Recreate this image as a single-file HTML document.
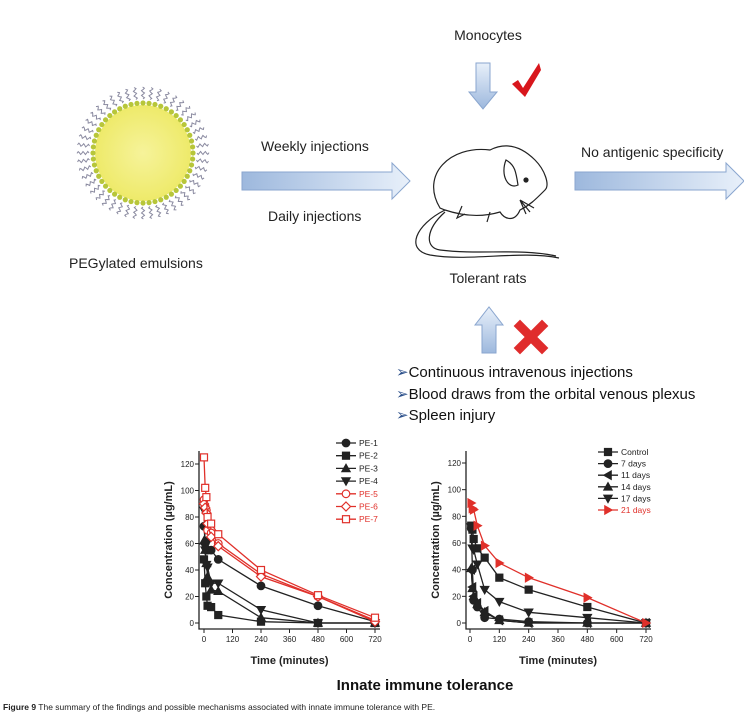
<!DOCTYPE html>
<html><head><meta charset="utf-8"><style>
body{margin:0;background:#fff;}
svg{display:block;font-family:"Liberation Sans",Arial,sans-serif;}
</style></head><body>
<svg id="fig" width="744" height="719" viewBox="0 0 744 719">
<defs>
<linearGradient id="ag" x1="0" x2="1" y1="0" y2="0"><stop offset="0" stop-color="#9db8dd"/><stop offset="1" stop-color="#e8f0fa"/></linearGradient>
<linearGradient id="agv" x1="0" x2="0" y1="0" y2="1"><stop offset="0" stop-color="#e8f0fa"/><stop offset="1" stop-color="#9db8dd"/></linearGradient>
<radialGradient id="yg"><stop offset="0" stop-color="#f6f39a"/><stop offset="1" stop-color="#eeea6a"/></radialGradient>
</defs>
<g id="sphere"></g>
<text x="69" y="268" font-size="14" fill="#222">PEGylated emulsions</text>
<path d="M242,172 H392 V163 L410,181 L392,199 V190 H242 Z" fill="url(#ag)" stroke="#8aa6cf"/>
<text x="261" y="151" font-size="14" fill="#222">Weekly injections</text>
<text x="268" y="221" font-size="14" fill="#222">Daily injections</text>
<path d="M575,172 H726 V163 L744,181 L726,199 V190 H575 Z" fill="url(#ag)" stroke="#8aa6cf"/>
<text x="581" y="157" font-size="14" fill="#222">No antigenic specificity</text>
<text x="488" y="40" font-size="14" fill="#222" text-anchor="middle">Monocytes</text>
<path d="M476,63 H490 V92 H497 L483,109 L469,92 H476 Z" fill="url(#agv)" stroke="#8aa6cf"/>
<path d="M512,84 L518,80 L523,88 L539,63 L541,70 L525,97 Z" fill="#d8161c"/>
<g fill="none" stroke="#222" stroke-width="1.2">
<path d="M440,208 C420,175 450,145 490,150 C510,140 525,150 535,160 C545,170 550,185 545,190 C535,200 530,205 520,210 C515,222 505,220 500,212 C480,218 460,215 445,210 Z"/>
<path d="M445,210 C415,225 405,250 430,255 C470,262 520,250 559,258"/>
<path d="M445,212 C425,230 425,248 440,250 C480,255 520,248 556,256"/>
<path d="M506,160 C500,175 508,190 518,185 C516,172 515,165 506,160 Z"/>
<circle cx="526" cy="180" r="2" fill="#222"/>
<path d="M520,200 l10,12 M520,200 l14,8 M520,200 l6,14"/>
<path d="M462,206 l-5,12 l8,-4 M490,212 l-3,10"/>
</g>
<text x="488" y="283" font-size="14" fill="#222" text-anchor="middle">Tolerant rats</text>
<path d="M482,353 H496 V325 H503 L489,307 L475,325 H482 Z" fill="url(#agv)" stroke="#8aa6cf"/>
<g stroke="#e02c2c" stroke-width="9" stroke-linecap="square"><line x1="520" y1="326" x2="542" y2="348"/><line x1="542" y1="326" x2="520" y2="348"/></g>
<g font-size="15" fill="#111">
<text x="396" y="377"><tspan fill="#2b4f8a">➢</tspan>Continuous intravenous injections</text>
<text x="396" y="399"><tspan fill="#2b4f8a">➢</tspan>Blood draws from the orbital venous plexus</text>
<text x="396" y="420"><tspan fill="#2b4f8a">➢</tspan>Spleen injury</text>
</g>
<g id="chartL"></g>
<g id="chartR"></g>
<text x="425" y="690" font-size="15" font-weight="bold" text-anchor="middle" fill="#111">Innate immune tolerance</text>
<text x="3" y="710" font-size="8.5" fill="#222"><tspan font-weight="bold" fill="#222">Figure 9</tspan> The summary of the findings and possible mechanisms associated with innate immune tolerance with PE.</text>
</svg>
<script>
const NS='http://www.w3.org/2000/svg';
function mk(p,t,a){const e=document.createElementNS(NS,t);for(const k in a)e.setAttribute(k,a[k]);p.appendChild(e);return e;}
(function(){const g=document.getElementById('sphere');const cx=143,cy=153;
for(let i=0;i<48;i++){const a=i/48*2*Math.PI;let d='';for(let s=0;s<=10;s++){const r=54+s*1.2;const w=Math.sin(s*1.6)*1.5;const x=cx+r*Math.cos(a)-w*Math.sin(a),y=cy+r*Math.sin(a)+w*Math.cos(a);d+=(s?'L':'M')+x.toFixed(1)+','+y.toFixed(1);}
mk(g,'path',{d:d,fill:'none',stroke:'#8a8aa0','stroke-width':1});}
mk(g,'circle',{cx:cx,cy:cy,r:48,fill:'url(#yg)'});
for(let i=0;i<52;i++){const a=i/52*2*Math.PI;mk(g,'circle',{cx:cx+50*Math.cos(a),cy:cy+50*Math.sin(a),r:2.6,fill:'#b7c63a'});}})();

const timesL=[0,5,10,15,30,60,240,480,720];
const namesL=['PE-1','PE-2','PE-3','PE-4','PE-5','PE-6','PE-7'];
const pe1=[73,60,62,55,55,48,28,13,1];
const pe2=[48,30,20,13,12,6,1,0,0];
const pe3=[62,55,45,35,25,24,4,0,0];
const pe4=[85,55,44,42,30,30,10,0,0];
const pe5=[93,88,85,70,68,60,37,20,2];
const pe6=[90,87,83,75,65,58,35,20,1];
const pe7=[125,102,95,80,75,67,40,21,4];
const timesR=[5,10,15,30,60,120,240,480,720];
const namesR=['Control','7 days','11 days','14 days','17 days','21 days'];
const ctrl=[73,70,63,56,49,34,25,12,0];
const d7=[71,40,17,12,4,3,1,0,0];
const d11=[40,27,20,15,9,2,0,0,0];
const d14=[41,26,20,14,8,2,0,0,0];
const d17=[72,56,55,44,25,16,8,4,0];
const d21=[90,86,85,73,58,45,34,19,0];
const yTicks=[0,20,40,60,80,100,120];
const xTicks=[0,120,240,360,480,600,720];

function marker(g,type,x,y,col,open){const f=open?'#fff':col;let e;
 if(type==='circle')e=mk(g,'circle',{cx:x,cy:y,r:3.8,fill:f,stroke:col,'stroke-width':1.2});
 else if(type==='square')e=mk(g,'rect',{x:x-3.5,y:y-3.5,width:7,height:7,fill:f,stroke:col,'stroke-width':1.2});
 else if(type==='up')e=mk(g,'path',{d:`M${x},${y-4.3}L${x+4.3},${y+3.3}L${x-4.3},${y+3.3}Z`,fill:f,stroke:col});
 else if(type==='down')e=mk(g,'path',{d:`M${x},${y+4.3}L${x+4.3},${y-3.3}L${x-4.3},${y-3.3}Z`,fill:f,stroke:col});
 else if(type==='left')e=mk(g,'path',{d:`M${x-4.3},${y}L${x+3.3},${y-4.3}L${x+3.3},${y+4.3}Z`,fill:f,stroke:col});
 else if(type==='right')e=mk(g,'path',{d:`M${x+4.3},${y}L${x-3.3},${y-4.3}L${x-3.3},${y+4.3}Z`,fill:f,stroke:col});
 else e=mk(g,'path',{d:`M${x},${y-4.5}L${x+4.5},${y}L${x},${y+4.5}L${x-4.5},${y}Z`,fill:f,stroke:col,'stroke-width':1.2});
 
 }

function chart(id,o){const g=document.getElementById(id);
 const X=v=>o.x0+(o.x1-o.x0)*v/720, Y=v=>o.y0+(o.y1-o.y0)*v/120;
 const ax=mk(g,'path',{d:`M${o.ax},451V629H${X(720)+5}`,fill:'none',stroke:'#222','stroke-width':1.3});
 
 yTicks.forEach(t=>{mk(g,'line',{x1:o.ax-4,x2:o.ax,y1:Y(t),y2:Y(t),stroke:'#222'});const tx=mk(g,'text',{x:o.ax-5,y:Y(t)+3,'font-size':8,'text-anchor':'end',fill:'#222'});tx.textContent=t;});
 xTicks.forEach(t=>{mk(g,'line',{x1:X(t),x2:X(t),y1:629,y2:633,stroke:'#222'});const tx=mk(g,'text',{x:X(t),y:642,'font-size':8,'text-anchor':'middle',fill:'#222'});tx.textContent=t;});
 const xt=mk(g,'text',{x:(o.x0+o.x1)/2,y:664,'font-size':11,'font-weight':'bold','text-anchor':'middle',fill:'#222'});xt.textContent='Time (minutes)';
 const yt=mk(g,'text',{x:0,y:0,'font-size':11,'font-weight':'bold','text-anchor':'middle',fill:'#222',transform:`translate(${o.ax-27},540) rotate(-90)`});yt.textContent='Concentration (µg/mL)';
 o.series.forEach((s,i)=>{const sg=mk(g,'g',{});
  const d=s.v.map((v,j)=>(j?'L':'M')+X(o.t[j])+','+Y(v)).join('');
  mk(sg,'path',{d:d,fill:'none',stroke:s.c,'stroke-width':1.3});
  s.v.forEach((v,j)=>marker(sg,s.m,X(o.t[j]),Y(v),s.c,s.o));
  const ly=o.ly+i*o.ls;const lg=mk(g,'g',{});
  mk(lg,'line',{x1:o.lx,x2:o.lx+20,y1:ly,y2:ly,stroke:s.c,'stroke-width':1.3});marker(lg,s.m,o.lx+10,ly,s.c,s.o);
  const t=mk(lg,'text',{x:o.lx+23,y:ly+3,'font-size':8.5,fill:s.c});t.textContent=o.names[i];});
}
const K='#222',R='#e0302a';
chart('chartL',{ax:199,x0:204,x1:375,y0:623,y1:464,t:timesL,names:namesL,lx:336,ly:443,ls:12.7,series:[
 {v:pe1,m:'circle',c:K},{v:pe2,m:'square',c:K},{v:pe3,m:'up',c:K},{v:pe4,m:'down',c:K},
 {v:pe5,m:'circle',c:R,o:1},{v:pe6,m:'diamond',c:R,o:1},{v:pe7,m:'square',c:R,o:1}]});
chart('chartR',{ax:466,x0:470,x1:646,y0:623,y1:463,t:timesR,names:namesR,lx:598,ly:452,ls:11.6,series:[
 {v:ctrl,m:'square',c:K},{v:d7,m:'circle',c:K},{v:d11,m:'left',c:K},{v:d14,m:'up',c:K},{v:d17,m:'down',c:K},{v:d21,m:'right',c:R}]});
</script>
</body></html>
